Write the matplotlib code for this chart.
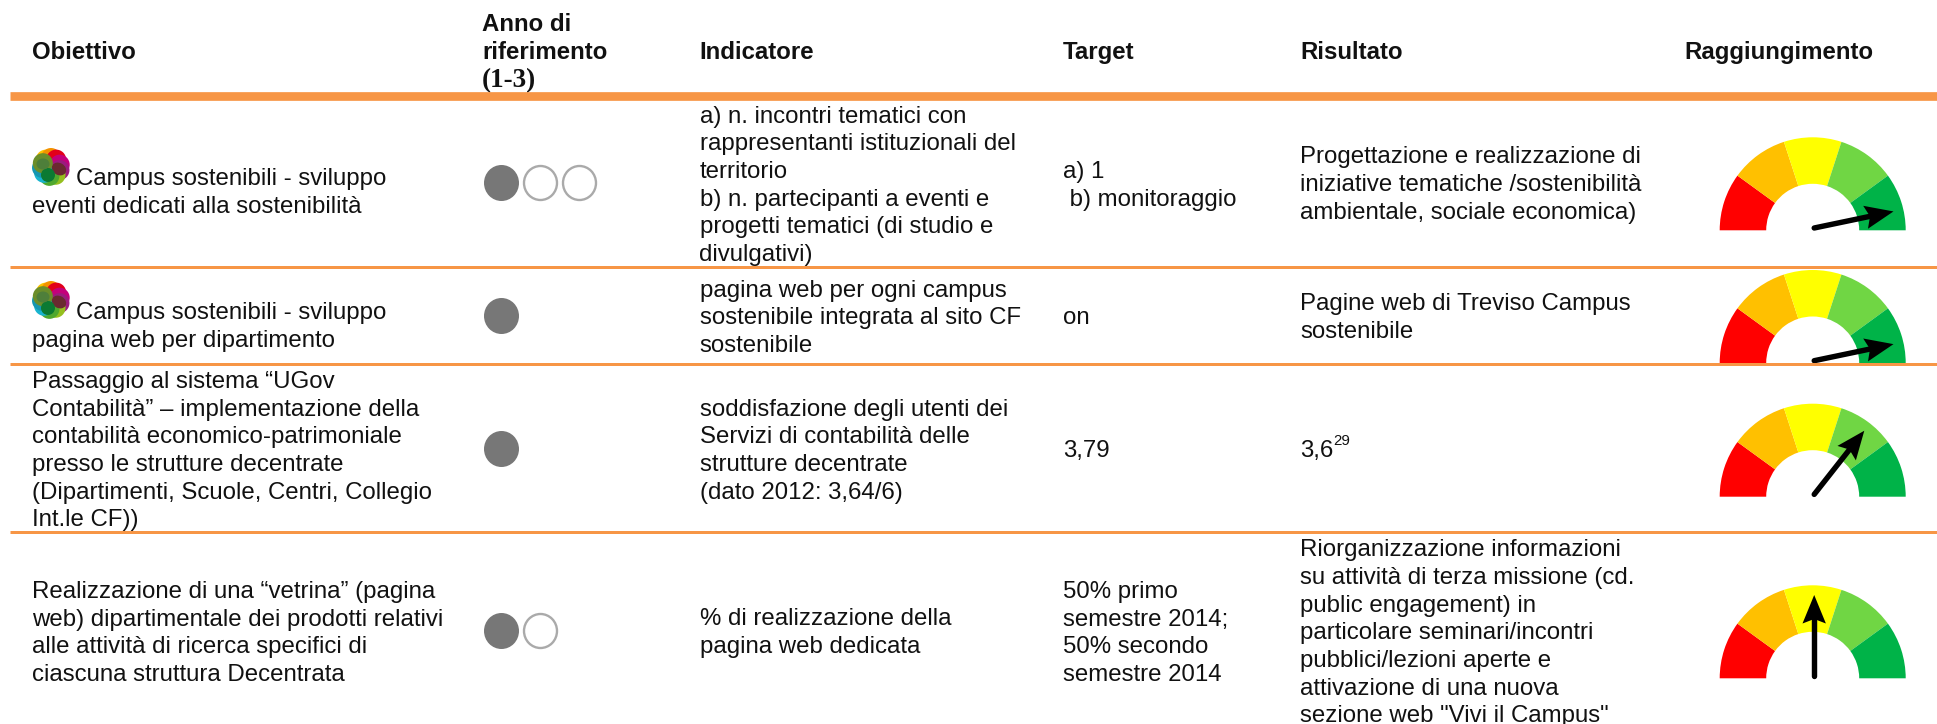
import numpy as np
import matplotlib
matplotlib.use("Agg")
import matplotlib.pyplot as plt
from matplotlib.patches import Wedge, Ellipse, Polygon

headers = ["Obiettivo", "Indicatore", "Target", "Risultato", "Raggiungimento"]
header_year = ["Anno di", "riferimento"]
header_year_serif = "(1-3)"

obiettivo = [
    ["Campus sostenibili - sviluppo", "eventi dedicati alla sostenibilità"],
    ["Campus sostenibili - sviluppo", "pagina web per dipartimento"],
    ["Passaggio al sistema “UGov", "Contabilità” – implementazione della",
     "contabilità economico-patrimoniale", "presso le strutture decentrate",
     "(Dipartimenti, Scuole, Centri, Collegio", "Int.le CF))"],
    ["Realizzazione di una “vetrina” (pagina", "web) dipartimentale dei prodotti relativi",
     "alle attività di ricerca specifici di", "ciascuna struttura Decentrata"],
]
indicatore = [
    ["a) n. incontri tematici con", "rappresentanti istituzionali del", "territorio",
     "b) n. partecipanti a eventi e", "progetti tematici (di studio e", "divulgativi)"],
    ["pagina web per ogni campus", "sostenibile integrata al sito CF", "sostenibile"],
    ["soddisfazione degli utenti dei", "Servizi di contabilità delle",
     "strutture decentrate", "(dato 2012: 3,64/6)"],
    ["% di realizzazione della", "pagina web dedicata"],
]
target = [
    ["a) 1", " b) monitoraggio"],
    ["on"],
    ["3,79"],
    ["50% primo", "semestre 2014;", "50% secondo", "semestre 2014"],
]
risultato = [
    ["Progettazione e realizzazione di", "iniziative tematiche /sostenibilità",
     "ambientale, sociale economica)"],
    ["Pagine web di Treviso Campus", "sostenibile"],
    ["3,6"],
    ["Riorganizzazione informazioni", "su attività di terza missione (cd.",
     "public engagement) in", "particolare seminari/incontri",
     "pubblici/lezioni aperte e", "attivazione di una nuova",
     "sezione web \"Vivi il Campus\""],
]
footnote = "29"
anni_pieni = [1, 1, 1, 1]
anni_vuoti = [2, 0, 0, 1]
needle_deg = [11.8, 11.8, 51.8, 90.0]
gauge_colors = ["#FF0000", "#FFC000", "#FFFF00", "#70D644", "#00B348"]

# layout, in reference pixels
col_x = [32, 699.5, 1063, 1300.5, 1684]
year_x = 482
first_baseline = {
    "obiettivo": [185, 319, 388, 598],
    "indicatore": [122.7, 296.5, 415.7, 625],
    "target": [178, 324, 457, 598],
    "risultato": [163.5, 310.3, 457, 556.3],
}
LH = 27.65
dot_y = [183, 316, 449, 631]
dot_x = 501.5
dot_step = 39
gauge_y = [230.3, 363, 496.7, 678.3]
gauge_x = 1812.7
rules = [(96.4, 8.7), (267.3, 3), (364.3, 3), (532.3, 3)]
ORANGE = "#F79646"
INK = "#111111"

plt.rcParams["font.family"] = ["Liberation Sans", "DejaVu Sans"]
fig = plt.figure(figsize=(19.37, 7.24), dpi=100)
ax = fig.add_axes([0, 0, 1, 1])
ax.set_xlim(0, 1937)
ax.set_ylim(724, 0)
ax.axis("off")
FS = 17.3


def block(x, y0, lines):
    for i, s in enumerate(lines):
        ax.text(x, y0 + i * LH, s, fontsize=FS, color=INK, va="baseline", ha="left")


# header
for x, s in zip(col_x, headers):
    ax.text(x, 59, s, fontsize=FS, fontweight="bold", color=INK, va="baseline")
ax.text(year_x, 30.7, header_year[0], fontsize=FS, fontweight="bold", color=INK, va="baseline")
ax.text(year_x, 59, header_year[1], fontsize=FS, fontweight="bold", color=INK, va="baseline")
ax.text(year_x, 87, header_year_serif, fontsize=19.5, fontweight="bold", family="Liberation Serif",
        color=INK, va="baseline")

for y, h in rules:
    ax.plot([10, 1937], [y, y], color=ORANGE, lw=h * 0.72, solid_capstyle="butt", zorder=5)


def flower(cx, cy):
    petals = [(125, "#FDC300"), (90, "#F39200"), (55, "#E2001A"), (15, "#C4007A"),
              (-20, "#9B1B7E"), (-60, "#95BF1F"), (-100, "#4FA82E"), (-140, "#18B4CF"),
              (-175, "#1596B0"), (155, "#6B8E2A")]
    for a, c in petals:
        t = np.deg2rad(a)
        ax.add_patch(Ellipse((cx + 9 * np.cos(t), cy - 9 * np.sin(t)), 20, 20,
                             facecolor=c, lw=0, zorder=3))
    ax.add_patch(Ellipse((cx + 8, cy + 2), 15, 12, angle=30, facecolor="#6A2A30", lw=0, zorder=3))
    ax.add_patch(Ellipse((cx - 3, cy + 8), 14, 14, facecolor="#0B7A32", lw=0, zorder=3))
    ax.add_patch(Ellipse((cx - 8, cy - 3), 13, 11, facecolor="#4E7F3A", lw=0, zorder=3))


flower(51, 167)
flower(51, 300)

for r, lines in enumerate(obiettivo):
    y0 = first_baseline["obiettivo"][r]
    if r < 2:
        ax.text(76, y0, lines[0], fontsize=FS, color=INK, va="baseline")
        block(col_x[0], y0 + LH, lines[1:])
    else:
        block(col_x[0], y0, lines)
for r in range(4):
    block(col_x[1], first_baseline["indicatore"][r], indicatore[r])
    block(col_x[2], first_baseline["target"][r], target[r])
    block(col_x[3], first_baseline["risultato"][r], risultato[r])
ax.text(1333.3, 444.7, footnote, fontsize=10.8, color=INK, va="baseline")

# reference year dots
for r in range(4):
    for k in range(anni_pieni[r] + anni_vuoti[r]):
        cx = dot_x + dot_step * k
        if k < anni_pieni[r]:
            ax.add_patch(Ellipse((cx, dot_y[r]), 35, 36, facecolor="#777777", edgecolor="none"))
        else:
            ax.add_patch(Ellipse((cx, dot_y[r]), 33, 34, facecolor="white", edgecolor="#AAAAAA", lw=1.7))

# gauges
for r in range(4):
    cy = gauge_y[r]
    for i, c in enumerate(gauge_colors):
        ax.add_patch(Wedge((gauge_x, cy), 93, 180 + 36 * i, 180 + 36 * (i + 1), width=46.5,
                           facecolor=c, edgecolor="none", zorder=2))
    t = np.deg2rad(needle_deg[r])
    u = np.array([np.cos(t), -np.sin(t)])
    n = np.array([-u[1], u[0]])
    o = np.array([1814.2, cy - 2.3])
    tip = o + 81 * u
    neck = tip - 24 * u
    ax.plot([o[0], neck[0]], [o[1], neck[1]], color="black", lw=3.9, solid_capstyle="round", zorder=3)
    ax.add_patch(Polygon([tip, tip - 28.5 * u + 11.7 * n, neck, tip - 28.5 * u - 11.7 * n],
                         closed=True, facecolor="black", edgecolor="none", zorder=4))

fig.savefig("out.png", dpi=100, facecolor="white")
